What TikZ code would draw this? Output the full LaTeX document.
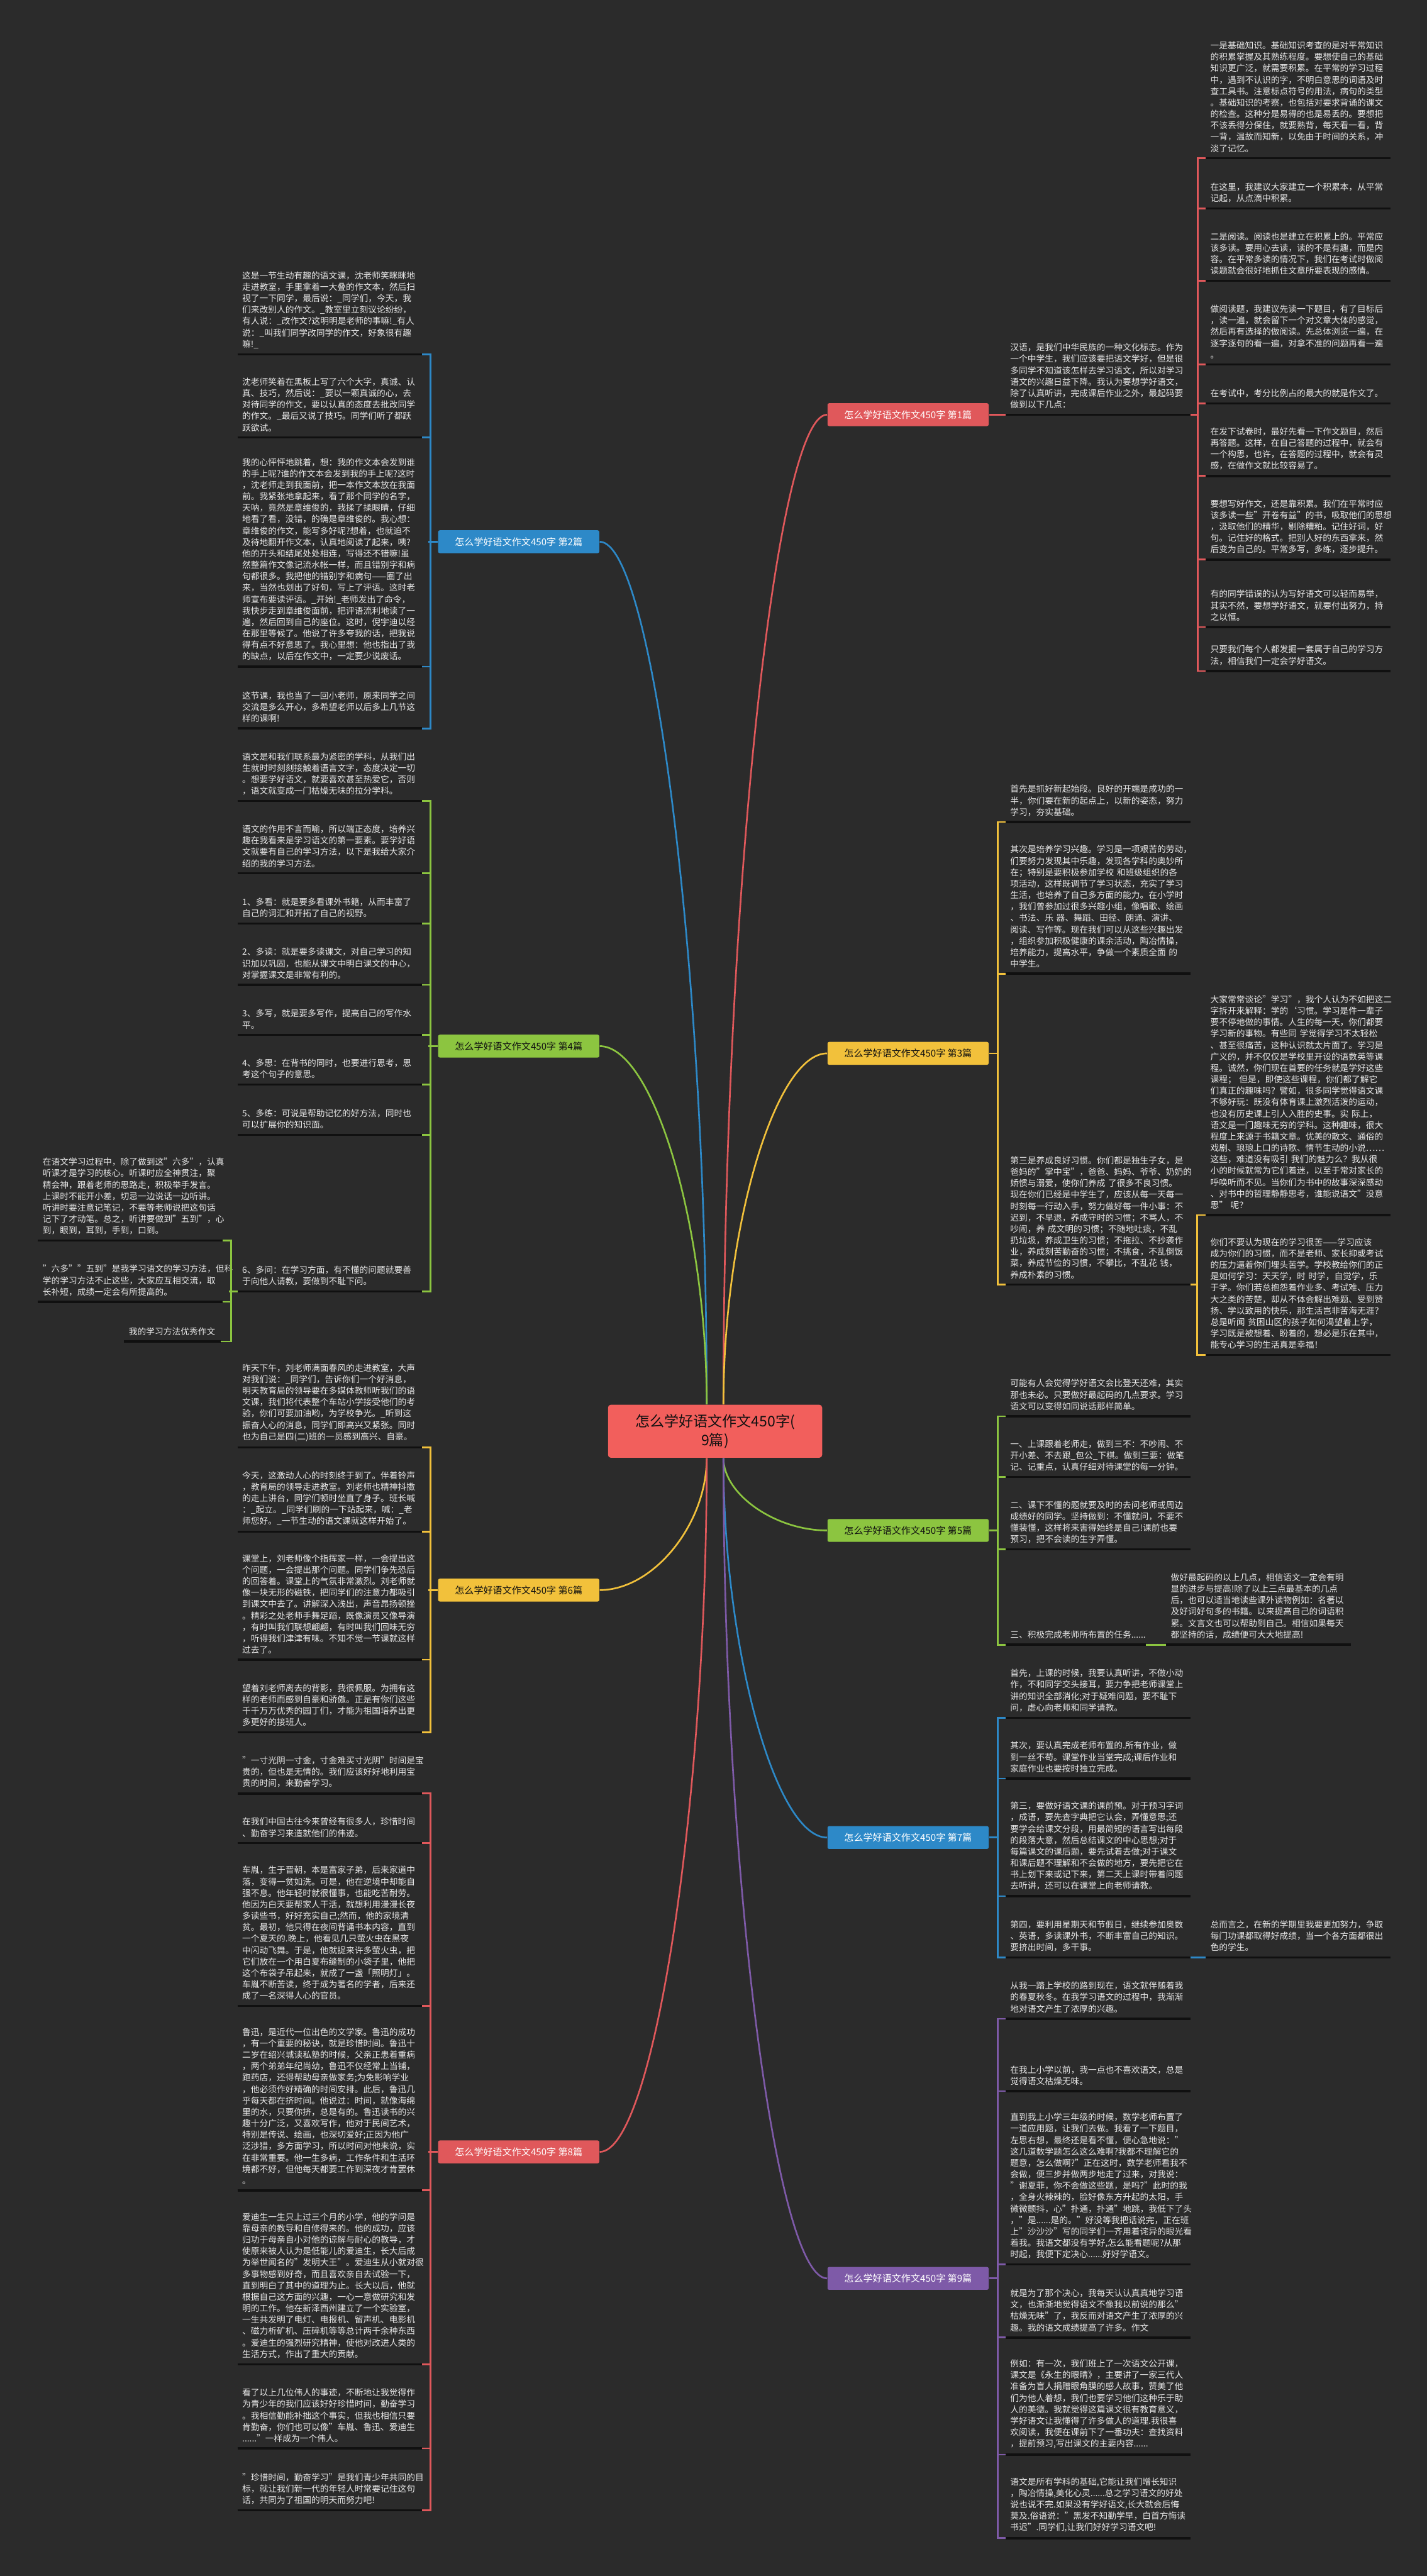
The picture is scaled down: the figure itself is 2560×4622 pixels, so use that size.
\documentclass[tikz,border=0pt]{standalone}
\usepackage{fontspec}
\setmainfont{Noto Sans CJK SC}
\definecolor{bgc}{HTML}{2B2B2B}
\definecolor{txtc}{HTML}{E8E8E8}
\definecolor{ulc}{HTML}{101010}
\definecolor{cred}{HTML}{E0585B}
\definecolor{cblue}{HTML}{2D89C8}
\definecolor{cyellow}{HTML}{F2C13B}
\definecolor{cgreen}{HTML}{8CC540}
\definecolor{cpurple}{HTML}{7E5AA8}
\definecolor{rootc}{HTML}{F25F5C}
\newcommand\txt{\fontsize{4.41pt}{5.83pt}\selectfont}
\begin{document}
\begin{tikzpicture}[x=0.01cm, y=-0.01cm,
  uline/.style={draw=ulc, line width=1.14pt},
  para/.style={anchor=south west, inner xsep=0.08cm, inner ysep=0.1cm, text width=3.14cm, align=left, font=\txt, text=txtc,
    append after command={(\tikzlastnode.south west) edge[uline] (\tikzlastnode.south east)}},
  topic/.style={rounded corners=0.03cm, minimum width=2.89cm, minimum height=0.41cm, inner sep=0pt, font=\fontsize{4.84pt}{6pt}\selectfont},
  link/.style={line width=0.85pt}]
\fill[bgc] (0,0) rectangle (2560,4622);
\useasboundingbox (0,0) rectangle (2560,4622);

% root and topics
\node [rootc, fill=rootc, rounded corners=0.05cm, minimum width=3.84cm, minimum height=0.95cm, align=center, text=ulc, font=\fontsize{7.4pt}{9.6pt}\selectfont] (root) at (1283,2568) {怎么学好语文作文450字(\\9篇)};
\node [topic, fill=cred, text=white, anchor=west] (b1) at (1484,744) {怎么学好语文作文450字 第1篇};
\node [topic, fill=cblue, text=white, anchor=east] (b2) at (1076,972) {怎么学好语文作文450字 第2篇};
\node [topic, fill=cyellow, text=ulc, anchor=west] (b3) at (1484,1890) {怎么学好语文作文450字 第3篇};
\node [topic, fill=cgreen, text=ulc, anchor=east] (b4) at (1076,1877) {怎么学好语文作文450字 第4篇};
\node [topic, fill=cgreen, text=ulc, anchor=west] (b5) at (1484,2746) {怎么学好语文作文450字 第5篇};
\node [topic, fill=cyellow, text=ulc, anchor=east] (b6) at (1076,2853) {怎么学好语文作文450字 第6篇};
\node [topic, fill=cblue, text=white, anchor=west] (b7) at (1484,3297) {怎么学好语文作文450字 第7篇};
\node [topic, fill=cred, text=white, anchor=east] (b8) at (1076,3861) {怎么学好语文作文450字 第8篇};
\node [topic, fill=cpurple, text=white, anchor=west] (b9) at (1484,4088) {怎么学好语文作文450字 第9篇};

\draw [link, cred] ([xshift=0.15cm]root.north) .. controls +(0,-888) and +(-93,0) .. (b1.west);
\draw [link, cyellow] ([xshift=0.15cm]root.north) .. controls +(0,-315) and +(-93,0) .. (b3.west);
\draw [link, cgreen] ([xshift=0.15cm]root.south) .. controls +(0,65) and +(-93,0) .. (b5.west);
\draw [link, cblue] ([xshift=0.15cm]root.south) .. controls +(0,341) and +(-93,0) .. (b7.west);
\draw [link, cpurple] ([xshift=0.15cm]root.south) .. controls +(0,736) and +(-93,0) .. (b9.west);
\draw [link, cblue] ([xshift=-0.15cm]root.north) .. controls +(0,-774) and +(96,0) .. (b2.east);
\draw [link, cgreen] ([xshift=-0.15cm]root.north) .. controls +(0,-322) and +(96,0) .. (b4.east);
\draw [link, cyellow] ([xshift=-0.15cm]root.south) .. controls +(0,119) and +(96,0) .. (b6.east);
\draw [link, cred] ([xshift=-0.15cm]root.south) .. controls +(0,623) and +(96,0) .. (b8.east);

% 第1篇
\node [para] (h1) at (1804,744) {汉语，是我们中华民族的一种文化标志。作为\\一个中学生，我们应该要把语文学好，但是很\\多同学不知道该怎样去学习语文，所以对学习\\语文的兴趣日益下降。我认为要想学好语文，\\除了认真听讲，完成课后作业之外，最起码要\\做到以下几点：};
\node [para] (r1) at (2163,284) {一是基础知识。基础知识考查的是对平常知识\\的积累掌握及其熟练程度。要想使自己的基础\\知识更广泛，就需要积累。在平常的学习过程\\中，遇到不认识的字，不明白意思的词语及时\\查工具书。注意标点符号的用法，病句的类型\\。基础知识的考察，也包括对要求背诵的课文\\的检查。这种分是易得的也是易丢的。要想把\\不该丢得分保住，就要熟背，每天看一看，背\\一背，温故而知新，以免由于时间的关系，冲\\淡了记忆。};
\node [para] (r2) at (2163,374) {在这里，我建议大家建立一个积累本，从平常\\记起，从点滴中积累。};
\node [para] (r3) at (2163,504) {二是阅读。阅读也是建立在积累上的。平常应\\该多读。要用心去读，读的不是有趣，而是内\\容。在平常多读的情况下，我们在考试时做阅\\读题就会很好地抓住文章所要表现的感情。};
\node [para] (r4) at (2163,654) {做阅读题，我建议先读一下题目，有了目标后\\，读一遍，就会留下一个对文章大体的感觉，\\然后再有选择的做阅读。先总体浏览一遍，在\\逐字逐句的看一遍，对拿不准的问题再看一遍\\。};
\node [para] (r5) at (2163,724) {在考试中，考分比例占的最大的就是作文了。};
\node [para] (r6) at (2163,854) {在发下试卷时，最好先看一下作文题目，然后\\再答题。这样，在自己答题的过程中，就会有\\一个构思，也许，在答题的过程中，就会有灵\\感，在做作文就比较容易了。};
\node [para] (r7) at (2163,1004) {要想写好作文，还是靠积累。我们在平常时应\\该多读一些"开卷有益"的书，吸取他们的思想\\，汲取他们的精华，剔除糟粕。记住好词，好\\句。记住好的格式。把别人好的东西拿来，然\\后变为自己的。平常多写，多练，逐步提升。};
\node [para] (r8) at (2163,1125) {有的同学错误的认为写好语文可以轻而易举，\\其实不然，要想学好语文，就要付出努力，持\\之以恒。};
\node [para] (r9) at (2163,1204) {只要我们每个人都发掘一套属于自己的学习方\\法，相信我们一定会学好语文。};
\draw [link, cred] (b1.east) -- (h1.south west);
\draw [link, cred] (h1.south east) -- ++(15,0);
\draw [link, cred] (r1.south west) -- ++(-14,0) |- (r9.south west);
\foreach \n in {r2,r3,r4,r5,r6,r7,r8}
  \draw [link, cred] (\n.south west) -- ++(-14,0);

% 第3篇
\node [para] (e1) at (1804,1475) {首先是抓好新起始段。良好的开端是成功的一\\半，你们要在新的起点上，以新的姿态，努力\\学习，夯实基础。};
\node [para] (e2) at (1804,1747) {其次是培养学习兴趣。学习是一项艰苦的劳动，\\们要努力发现其中乐趣，发现各学科的奥妙所\\在；特别是要积极参加学校 和班级组织的各\\项活动，这样既调节了学习状态，充实了学习\\生活，也培养了自己多方面的能力。在小学时\\，我们曾参加过很多兴趣小组，像唱歌、绘画\\、书法、乐 器、舞蹈、田径、朗诵、演讲、\\阅读、写作等。现在我们可以从这些兴趣出发\\，组织参加积极健康的课余活动，陶冶情操，\\培养能力，提高水平，争做一个素质全面 的\\中学生。};
\node [para] (e3) at (1804,2305) {第三是养成良好习惯。你们都是独生子女，是\\爸妈的"掌中宝"，爸爸、妈妈、爷爷、奶奶的\\娇惯与溺爱，使你们养成 了很多不良习惯。\\现在你们已经是中学生了，应该从每一天每一\\时刻每一行动入手，努力做好每一件小事：不\\迟到，不早退，养成守时的习惯；不骂人，不\\吵闹，养 成文明的习惯；不随地吐痰，不乱\\扔垃圾，养成卫生的习惯；不拖拉、不抄袭作\\业，养成刻苦勤奋的习惯；不挑食，不乱倒饭\\菜，养成节俭的习惯，不攀比，不乱花 钱，\\养成朴素的习惯。};
\node [para] (f1) at (2163,2180) {大家常常谈论"学习"，我个人认为不如把这二\\字拆开来解释：学的{\char96}习惯。学习是件一辈子\\要不停地做的事情。人生的每一天，你们都要\\学习新的事物。有些同 学觉得学习不太轻松\\、甚至很痛苦，这种认识就太片面了。学习是\\广义的，并不仅仅是学校里开设的语数英等课\\程。诚然，你们现在首要的任务就是学好这些\\课程； 但是，即使这些课程，你们都了解它\\们真正的趣味吗？譬如，很多同学觉得语文课\\不够好玩：既没有体育课上激烈活泼的运动，\\也没有历史课上引人入胜的史事。实 际上，\\语文是一门趣味无穷的学科。这种趣味，很大\\程度上来源于书籍文章。优美的散文、通俗的\\戏剧、琅琅上口的诗歌、情节生动的小说……\\这些，难道没有吸引 我们的魅力么？我从很\\小的时候就常为它们着迷，以至于常对家长的\\呼唤听而不见。当你们为书中的故事深深感动\\、对书中的哲理静静思考，谁能说语文"没意\\思" 呢？};
\node [para] (f2) at (2163,2431) {你们不要认为现在的学习很苦——学习应该\\成为你们的习惯，而不是老师、家长抑或考试\\的压力逼着你们埋头苦学。学校教给你们的正\\是如何学习：天天学，时 时学，自觉学，乐\\于学。你们若总抱怨着作业多、考试难、压力\\大之类的苦楚，却从不体会解出难题、受到赞\\扬、学以致用的快乐，那生活岂非苦海无涯？\\总是听闻 贫困山区的孩子如何渴望着上学，\\学习既是被想着、盼着的，想必是乐在其中，\\能专心学习的生活真是幸福！};
\draw [link, cyellow] (b3.east) -- ++(17,0);
\draw [link, cyellow] (e1.south west) -- ++(-14,0) |- (e3.south west);
\draw [link, cyellow] (e2.south west) -- ++(-14,0);
\draw [link, cyellow] (e3.south east) -- ++(14,0);
\draw [link, cyellow] (f1.south west) -- ++(-15,0) |- (f2.south west);

% 第5篇
\node [para] (g1) at (1804,2541) {可能有人会觉得学好语文会比登天还难，其实\\那也未必。只要做好最起码的几点要求。学习\\语文可以变得如同说话那样简单。};
\node [para] (g2) at (1804,2650) {一、上课跟着老师走，做到三不：不吵闹、不\\开小差、不去跟\_包公\_下棋。做到三要：做笔\\记、记重点，认真仔细对待课堂的每一分钟。};
\node [para] (g3) at (1804,2780) {二、课下不懂的题就要及时的去问老师或周边\\成绩好的同学。坚持做到：不懂就问，不要不\\懂装懂，这样将来害得始终是自己!课前也要\\预习，把不会读的生字弄懂。};
\node [para, text width=2.34cm] (g4) at (1804,2951) {三、积极完成老师所布置的任务......};
\node [para] (g5) at (2092,2951) {做好最起码的以上几点，相信语文一定会有明\\显的进步与提高!除了以上三点最基本的几点\\后，也可以适当地读些课外读物例如：名著以\\及好词好句多的书籍。以来提高自己的词语积\\累。文言文也可以帮助到自己。相信如果每天\\都坚持的话，成绩便可大大地提高!};
\draw [link, cgreen] (b5.east) -- ++(17,0);
\draw [link, cgreen] (g1.south west) -- ++(-14,0) |- (g4.south west);
\foreach \n in {g2,g3}
  \draw [link, cgreen] (\n.south west) -- ++(-14,0);
\draw [link, cgreen] (g4.south east) -- (g5.south west);

% 第7篇
\node [para] (t1) at (1804,3082) {首先，上课的时候，我要认真听讲，不做小动\\作，不和同学交头接耳，要力争把老师课堂上\\讲的知识全部消化;对于疑难问题，要不耻下\\问，虚心向老师和同学请教。};
\node [para] (t2) at (1804,3191) {其次，要认真完成老师布置的.所有作业，做\\到一丝不苟。课堂作业当堂完成;课后作业和\\家庭作业也要按时独立完成。};
\node [para] (t3) at (1804,3402) {第三，要做好语文课的课前预。对于预习字词\\，成语，要先查字典把它认会，弄懂意思;还\\要学会给课文分段，用最简短的语言写出每段\\的段落大意，然后总结课文的中心思想;对于\\每篇课文的课后题，要先试着去做;对于课文\\和课后题不理解和不会做的地方，要先把它在\\书上划下来或记下来，第二天上课时带着问题\\去听讲，还可以在课堂上向老师请教。};
\node [para] (t4) at (1804,3512) {第四，要利用星期天和节假日，继续参加奥数\\、英语，多读课外书，不断丰富自己的知识。\\要挤出时间，多干事。};
\node [para] (t5) at (2163,3512) {总而言之，在新的学期里我要更加努力，争取\\每门功课都取得好成绩，当一个各方面都很出\\色的学生。};
\draw [link, cblue] (b7.east) -- ++(17,0);
\draw [link, cblue] (t1.south west) -- ++(-14,0) |- (t4.south west);
\draw [link, cblue] (t2.south west) -- ++(-14,0);
\draw [link, cblue] (t3.south west) -- ++(-14,0);
\draw [link, cblue] (t4.south east) -- (t5.south west);

% 第9篇
\node [para] (u1) at (1804,3622) {从我一踏上学校的路到现在，语文就伴随着我\\的春夏秋冬。在我学习语文的过程中，我渐渐\\地对语文产生了浓厚的兴趣。};
\node [para] (u2) at (1804,3752) {在我上小学以前，我一点也不喜欢语文，总是\\觉得语文枯燥无味。};
\node [para] (u3) at (1804,4063) {直到我上小学三年级的时候，数学老师布置了\\一道应用题，让我们去做。我看了一下题目，\\左思右想，最终还是看不懂，便心急地说："\\这几道数学题怎么这么难啊?我都不理解它的\\题意，怎么做啊?"正在这时，数学老师看我不\\会做，便三步并做两步地走了过来，对我说：\\"谢夏菲，你不会做这些题，是吗?"此时的我\\，全身火辣辣的，脸好像东方升起的太阳，手\\微微颤抖，心"扑通，扑通"地跳，我低下了头\\，"是......是的。"好没等我把话说完，正在班\\上"沙沙沙"写的同学们一齐用着诧异的眼光看\\着我。我语文都没有学好,怎么能看题呢?从那\\时起，我便下定决心......好好学语文。};
\node [para] (u4) at (1804,4194) {就是为了那个决心，我每天认认真真地学习语\\文，也渐渐地觉得语文不像我以前说的那么"\\枯燥无味"了，我反而对语文产生了浓厚的兴\\趣。我的语文成绩提高了许多。作文};
\node [para] (u5) at (1804,4404) {例如：有一次，我们班上了一次语文公开课，\\课文是《永生的眼睛》，主要讲了一家三代人\\准备为盲人捐赠眼角膜的感人故事，赞美了他\\们为他人着想，我们也要学习他们这种乐于助\\人的美德。我就觉得这篇课文很有教育意义，\\学好语文让我懂得了许多做人的道理.我很喜\\欢阅读，我便在课前下了一番功夫：查找资料\\，提前预习,写出课文的主要内容......};
\node [para] (u6) at (1804,4554) {语文是所有学科的基础,它能让我们增长知识\\，陶冶情操,美化心灵......总之学习语文的好处\\说也说不完.如果没有学好语文,长大就会后悔\\莫及.俗语说："黑发不知勤学早，白首方悔读\\书迟".同学们,让我们好好学习语文吧!};
\draw [link, cpurple] (b9.east) -- ++(17,0);
\draw [link, cpurple] (u1.south west) -- ++(-14,0) |- (u6.south west);
\foreach \n in {u2,u3,u4,u5}
  \draw [link, cpurple] (\n.south west) -- ++(-14,0);

% 第2篇
\node [para] (l1) at (426,636) {这是一节生动有趣的语文课，沈老师笑眯眯地\\走进教室，手里拿着一大叠的作文本，然后扫\\视了一下同学，最后说：\_同学们，今天，我\\们来改别人的作文。\_教室里立刻议论纷纷，\\有人说：\_改作文?这明明是老师的事嘛!\_有人\\说：\_叫我们同学改同学的作文，好象很有趣\\嘛!\_};
\node [para] (l2) at (426,785) {沈老师笑着在黑板上写了六个大字，真诚、认\\真、技巧，然后说：\_要以一颗真诚的心，去\\对待同学的作文，要以认真的态度去批改同学\\的作文。\_最后又说了技巧。同学们听了都跃\\跃欲试。};
\node [para] (l3) at (426,1196) {我的心怦怦地跳着，想：我的作文本会发到谁\\的手上呢?谁的作文本会发到我的手上呢?这时\\，沈老师走到我面前，把一本作文本放在我面\\前。我紧张地拿起来，看了那个同学的名字，\\天呐，竟然是章维俊的，我揉了揉眼睛，仔细\\地看了看，没错，的确是章维俊的。我心想：\\章维俊的作文，能写多好呢?想着，也就迫不\\及待地翻开作文本，认真地阅读了起来，咦?\\他的开头和结尾处处相连，写得还不错嘛!虽\\然整篇作文像记流水帐一样，而且错别字和病\\句都很多。我把他的错别字和病句——圈了出\\来，当然也划出了好句，写上了评语。这时老\\师宣布要读评语。\_开始!\_老师发出了命令，\\我快步走到章维俊面前，把评语流利地读了一\\遍，然后回到自己的座位。这时，倪宇迪以经\\在那里等候了。他说了许多夸我的话，把我说\\得有点不好意思了。我心里想：他也指出了我\\的缺点，以后在作文中，一定要少说废话。};
\node [para] (l4) at (426,1307) {这节课，我也当了一回小老师，原来同学之间\\交流是多么开心，多希望老师以后多上几节这\\样的课啊!};
\draw [link, cblue] (b2.west) -- ++(-17,0);
\draw [link, cblue] (l1.south east) -- ++(15,0) |- (l4.south east);
\foreach \n in {l2,l3}
  \draw [link, cblue] (\n.south east) -- ++(15,0);

% 第4篇
\node [para] (m1) at (426,1437) {语文是和我们联系最为紧密的学科，从我们出\\生就时时刻刻接触着语言文字，态度决定一切\\。想要学好语文，就要喜欢甚至热爱它，否则\\，语文就变成一门枯燥无味的拉分学科。};
\node [para] (m2) at (426,1567) {语文的作用不言而喻，所以端正态度，培养兴\\趣在我看来是学习语文的第一要素。要学好语\\文就要有自己的学习方法，以下是我给大家介\\绍的我的学习方法。};
\node [para] (m3) at (426,1657) {1、多看：就是要多看课外书籍，从而丰富了\\自己的词汇和开拓了自己的视野。};
\node [para] (m4) at (426,1767) {2、多读：就是要多读课文，对自己学习的知\\识加以巩固，也能从课文中明白课文的中心，\\对掌握课文是非常有利的。};
\node [para] (m5) at (426,1857) {3、多写，就是要多写作，提高自己的写作水\\平。};
\node [para] (m6) at (426,1946) {4、多思：在背书的同时，也要进行思考，思\\考这个句子的意思。};
\node [para] (m7) at (426,2036) {5、多练：可说是帮助记忆的好方法，同时也\\可以扩展你的知识面。};
\node [para] (m8) at (426,2317) {6、多问：在学习方面，有不懂的问题就要善\\于向他人请教，要做到不耻下问。};
\node [para] (n1) at (68,2226) {在语文学习过程中，除了做到这"六多"，认真\\听课才是学习的核心。听课时应全神贯注，聚\\精会神，跟着老师的思路走，积极举手发言。\\上课时不能开小差，切忌一边说话一边听讲。\\听讲时要注意记笔记，不要等老师说把这句话\\记下了才动笔。总之，听讲要做到"五到"，心\\到，眼到，耳到，手到，口到。};
\node [para] (n2) at (68,2336) {"六多""五到"是我学习语文的学习方法，但科\\学的学习方法不止这些，大家应互相交流，取\\长补短，成绩一定会有所提高的。};
\node [para, anchor=south east, text width=1.56cm] (n3) at (396,2407) {我的学习方法优秀作文};
\draw [link, cgreen] (b4.west) -- ++(-17,0);
\draw [link, cgreen] (m1.south east) -- ++(15,0) |- (m8.south east);
\foreach \n in {m2,m3,m4,m5,m6,m7}
  \draw [link, cgreen] (\n.south east) -- ++(15,0);
\draw [link, cgreen] (m8.south west) -- ++(-15,0);
\draw [link, cgreen] (n1.south east) -- ++(15,0) |- (n3.south east);
\draw [link, cgreen] (n2.south east) -- ++(15,0);

% 第6篇
\node [para] (o1) at (426,2597) {昨天下午，刘老师满面春风的走进教室，大声\\对我们说：\_同学们，告诉你们一个好消息，\\明天教育局的领导要在多媒体教师听我们的语\\文课，我们将代表整个车站小学接受他们的考\\验，你们可要加油哟，为学校争光。\_听到这\\振奋人心的消息，同学们即高兴又紧张。同时\\也为自己是四(二)班的一员感到高兴、自豪。};
\node [para] (o2) at (426,2748) {今天，这激动人心的时刻终于到了。伴着铃声\\，教育局的领导走进教室。刘老师也精神抖擞\\的走上讲台，同学们顿时坐直了身子。班长喊\\：\_起立。\_同学们刷的一下站起来，喊：\_老\\师您好。\_一节生动的语文课就这样开始了。};
\node [para] (o3) at (426,2978) {课堂上，刘老师像个指挥家一样，一会提出这\\个问题，一会提出那个问题。同学们争先恐后\\的回答着。课堂上的气氛非常激烈。刘老师就\\像一块无形的磁铁，把同学们的注意力都吸引\\到课文中去了。讲解深入浅出，声音昂扬顿挫\\。精彩之处老师手舞足蹈，既像演员又像导演\\，有时叫我们联想翩翩，有时叫我们回味无穷\\，听得我们津津有味。不知不觉一节课就这样\\过去了。};
\node [para] (o4) at (426,3108) {望着刘老师离去的背影，我很佩服。为拥有这\\样的老师而感到自豪和骄傲。正是有你们这些\\千千万万优秀的园丁们，才能为祖国培养出更\\多更好的接班人。};
\draw [link, cyellow] (b6.west) -- ++(-17,0);
\draw [link, cyellow] (o1.south east) -- ++(15,0) |- (o4.south east);
\foreach \n in {o2,o3}
  \draw [link, cyellow] (\n.south east) -- ++(15,0);

% 第8篇
\node [para] (p1) at (426,3218) {"一寸光阴一寸金，寸金难买寸光阴"时间是宝\\贵的，但也是无情的。我们应该好好地利用宝\\贵的时间，来勤奋学习。};
\node [para] (p2) at (426,3307) {在我们中国古往今来曾经有很多人，珍惜时间\\、勤奋学习来造就他们的伟迹。};
\node [para] (p3) at (426,3599) {车胤，生于晋朝，本是富家子弟，后来家道中\\落，变得一贫如洗。可是，他在逆境中却能自\\强不息。他年轻时就很懂事，也能吃苦耐劳。\\他因为白天要帮家人干活，就想利用漫漫长夜\\多读些书，好好充实自己;然而，他的家境清\\贫。最初，他只得在夜间背诵书本内容，直到\\一个夏天的.晚上，他看见几只萤火虫在黑夜\\中闪动飞舞。于是，他就捉来许多萤火虫，把\\它们放在一个用白夏布缝制的小袋子里，他把\\这个布袋子吊起来，就成了一盏「照明灯」。\\车胤不断苦读，终于成为著名的学者，后来还\\成了一名深得人心的官员。};
\node [para] (p4) at (426,3930) {鲁迅，是近代一位出色的文学家。鲁迅的成功\\，有一个重要的秘诀，就是珍惜时间。鲁迅十\\二岁在绍兴城读私塾的时候，父亲正患着重病\\，两个弟弟年纪尚幼，鲁迅不仅经常上当铺，\\跑药店，还得帮助母亲做家务;为免影响学业\\，他必须作好精确的时间安排。此后，鲁迅几\\乎每天都在挤时间。他说过：时间，就像海绵\\里的水，只要你挤，总是有的。鲁迅读书的兴\\趣十分广泛，又喜欢写作，他对于民间艺术，\\特别是传说、绘画，也深切爱好;正因为他广\\泛涉猎，多方面学习，所以时间对他来说，实\\在非常重要。他一生多病，工作条件和生活环\\境都不好，但他每天都要工作到深夜才肯罢休\\。};
\node [para] (p5) at (426,4242) {爱迪生一生只上过三个月的小学，他的学问是\\靠母亲的教导和自修得来的。他的成功，应该\\归功于母亲自小对他的谅解与耐心的教导，才\\使原来被人认为是低能儿的爱迪生，长大后成\\为举世闻名的"发明大王"。爱迪生从小就对很\\多事物感到好奇，而且喜欢亲自去试验一下，\\直到明白了其中的道理为止。长大以后，他就\\根据自己这方面的兴趣，一心一意做研究和发\\明的工作。他在新泽西州建立了一个实验室，\\一生共发明了电灯、电报机、留声机、电影机\\、磁力析矿机、压碎机等等总计两千余种东西\\。爱迪生的强烈研究精神，使他对改进人类的\\生活方式，作出了重大的贡献。};
\node [para] (p6) at (426,4393) {看了以上几位伟人的事迹，不断地让我觉得作\\为青少年的我们应该好好珍惜时间，勤奋学习\\。我相信勤能补拙这个事实，但我也相信只要\\肯勤奋，你们也可以像"车胤、鲁迅、爱迪生\\......"一样成为一个伟人。};
\node [para] (p7) at (426,4504) {"珍惜时间，勤奋学习"是我们青少年共同的目\\标，就让我们新一代的年轻人时常要记住这句\\话，共同为了祖国的明天而努力吧!};
\draw [link, cred] (b8.west) -- ++(-17,0);
\draw [link, cred] (p1.south east) -- ++(15,0) |- (p7.south east);
\foreach \n in {p2,p3,p4,p5,p6}
  \draw [link, cred] (\n.south east) -- ++(15,0);
\end{tikzpicture}
\end{document}
